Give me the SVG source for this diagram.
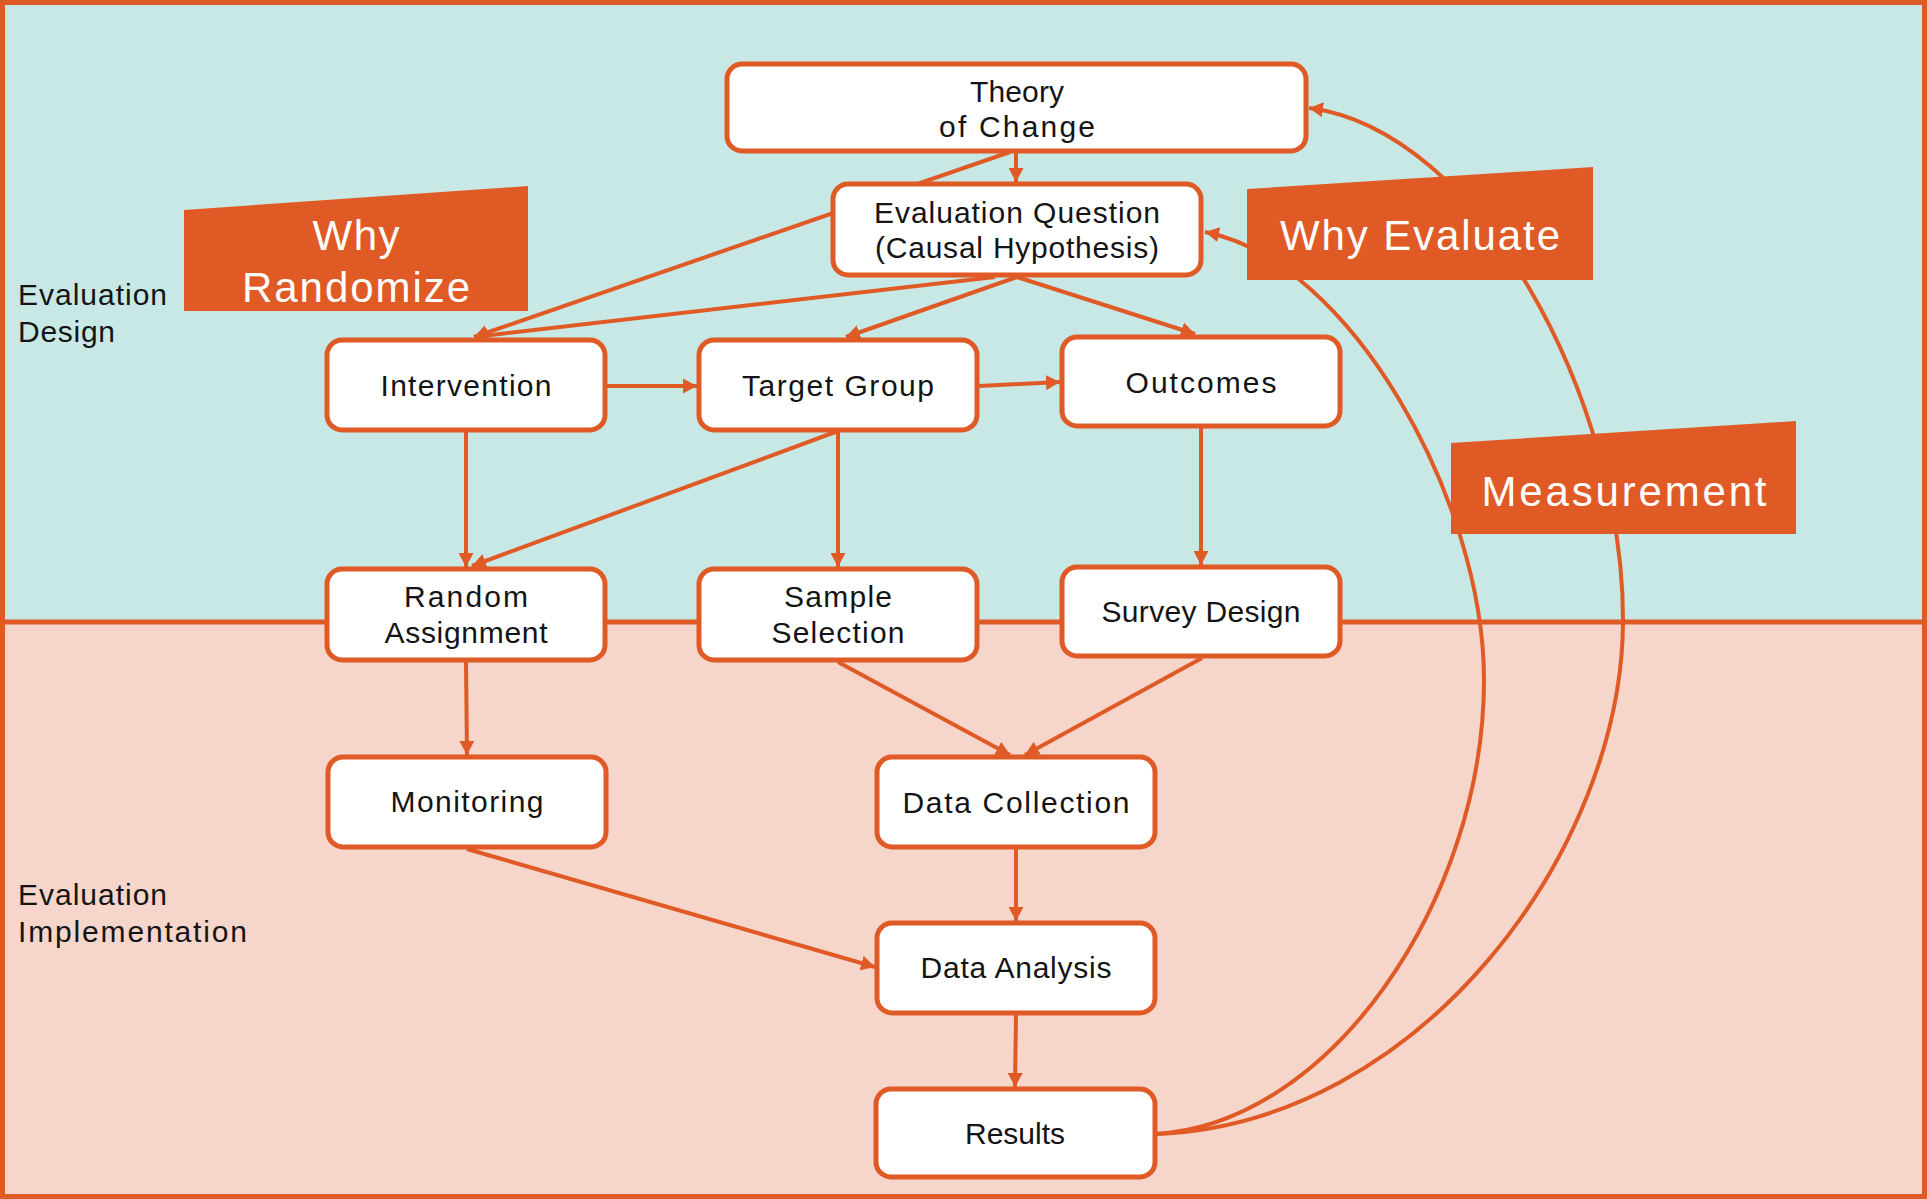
<svg xmlns="http://www.w3.org/2000/svg" width="1927" height="1199" viewBox="0 0 1927 1199">
  <defs>
    <marker id="arrow" markerUnits="userSpaceOnUse" markerWidth="15" markerHeight="15" refX="14" refY="7.5" orient="auto">
      <path d="M0,0 L14,7.5 L0,15 Z" fill="#E05A26"/>
    </marker>
    <style>
      .node rect { fill: #FFFFFF; stroke: #E05A26; stroke-width: 5; }
      .node text, .side { font-family: "Liberation Sans", Arial, sans-serif; font-size: 30px; fill: #141414; text-anchor: middle; }
      .side { text-anchor: start; }
      .edge { fill: none; stroke: #E05A26; stroke-width: 4; marker-end: url(#arrow); }
      .callout polygon { fill: #E05A26; }
      .callout text { font-family: "Liberation Sans", Arial, sans-serif; font-size: 42px; fill: #FFFFFF; text-anchor: middle; }
    </style>
  </defs>

  <!-- two bands: design (top) and implementation (bottom) -->
  <rect x="0" y="0" width="1927" height="622" fill="#C8E8E5"/>
  <rect x="0" y="622" width="1927" height="577" fill="#F6D5CA"/>
  <line x1="0" y1="622" x2="1927" y2="622" stroke="#E05A26" stroke-width="5"/>
  <rect x="2.5" y="2.5" width="1922" height="1194" fill="none" stroke="#E05A26" stroke-width="5"/>

  <g id="band-labels">
    <text class="side" x="18" y="305" textLength="149">Evaluation</text>
    <text class="side" x="18" y="342" textLength="97">Design</text>
    <text class="side" x="18" y="905" textLength="149">Evaluation</text>
    <text class="side" x="18" y="942" textLength="229">Implementation</text>
  </g>

  <g id="connectors">
    <line class="edge" x1="1016" y1="152" x2="1016" y2="182"/>
    <line class="edge" x1="1010" y1="152" x2="474" y2="337"/>
    <line class="edge" x1="995" y1="277" x2="474" y2="337"/>
    <line class="edge" x1="1017" y1="277" x2="846" y2="337"/>
    <line class="edge" x1="1017" y1="277" x2="1195" y2="334"/>
    <line class="edge" x1="606" y1="386" x2="697" y2="386"/>
    <line class="edge" x1="979" y1="386" x2="1060" y2="382"/>
    <line class="edge" x1="466" y1="431" x2="466" y2="567"/>
    <line class="edge" x1="838" y1="431" x2="472" y2="566"/>
    <line class="edge" x1="838" y1="431" x2="838" y2="567"/>
    <line class="edge" x1="1201" y1="428" x2="1201" y2="565"/>
    <line class="edge" x1="466" y1="662" x2="467" y2="755"/>
    <line class="edge" x1="838" y1="662" x2="1010" y2="755"/>
    <line class="edge" x1="1202" y1="658" x2="1025" y2="755"/>
    <line class="edge" x1="467" y1="849" x2="875" y2="967"/>
    <line class="edge" x1="1016" y1="849" x2="1016" y2="921"/>
    <line class="edge" x1="1016" y1="1015" x2="1015" y2="1087"/>
    <!-- feedback loops from Results -->
    <path class="edge" d="M1155,1134 C1330,1125 1484,900 1484,680 C1484,500 1350,260 1205,232"/>
    <path class="edge" d="M1155,1134 C1420,1125 1623,850 1623,620 C1623,400 1480,130 1309,108"/>
  </g>

  <g id="theory-of-change" class="node">
    <rect x="727" y="64" width="579" height="87" rx="15"/>
    <text x="1017" y="102" textLength="94">Theory</text>
    <text x="1017" y="137" textLength="156">of Change</text>
  </g>
  <g id="evaluation-question" class="node">
    <rect x="833" y="184" width="368" height="91" rx="15"/>
    <text x="1017" y="223" textLength="286">Evaluation Question</text>
    <text x="1017" y="258" textLength="284">(Causal Hypothesis)</text>
  </g>
  <g id="intervention" class="node">
    <rect x="327" y="340" width="278" height="90" rx="15"/>
    <text x="466" y="396" textLength="171">Intervention</text>
  </g>
  <g id="target-group" class="node">
    <rect x="699" y="340" width="278" height="90" rx="15"/>
    <text x="838" y="396" textLength="192">Target Group</text>
  </g>
  <g id="outcomes" class="node">
    <rect x="1062" y="337" width="278" height="89" rx="15"/>
    <text x="1201" y="393" textLength="151">Outcomes</text>
  </g>
  <g id="random-assignment" class="node">
    <rect x="327" y="569" width="278" height="91" rx="15"/>
    <text x="466" y="607" textLength="124">Random</text>
    <text x="466" y="643" textLength="163">Assignment</text>
  </g>
  <g id="sample-selection" class="node">
    <rect x="699" y="569" width="278" height="91" rx="15"/>
    <text x="838" y="607" textLength="108">Sample</text>
    <text x="838" y="643" textLength="133">Selection</text>
  </g>
  <g id="survey-design" class="node">
    <rect x="1062" y="567" width="278" height="89" rx="15"/>
    <text x="1201" y="622" textLength="199">Survey Design</text>
  </g>
  <g id="monitoring" class="node">
    <rect x="328" y="757" width="278" height="90" rx="15"/>
    <text x="467" y="812" textLength="153">Monitoring</text>
  </g>
  <g id="data-collection" class="node">
    <rect x="877" y="757" width="278" height="90" rx="15"/>
    <text x="1016" y="813" textLength="227">Data Collection</text>
  </g>
  <g id="data-analysis" class="node">
    <rect x="877" y="923" width="278" height="90" rx="15"/>
    <text x="1016" y="978" textLength="191">Data Analysis</text>
  </g>
  <g id="results" class="node">
    <rect x="876" y="1089" width="279" height="88" rx="15"/>
    <text x="1015" y="1144">Results</text>
  </g>

  <g id="why-randomize" class="callout">
    <polygon points="184,210 528,186 528,311 184,311"/>
    <text x="356" y="250" textLength="87">Why</text>
    <text x="356" y="302" textLength="228">Randomize</text>
  </g>
  <g id="why-evaluate" class="callout">
    <polygon points="1247,189 1593,167 1593,280 1247,280"/>
    <text x="1420" y="250" textLength="280">Why Evaluate</text>
  </g>
  <g id="measurement" class="callout">
    <polygon points="1451,443 1796,421 1796,534 1451,534"/>
    <text x="1624" y="506" textLength="285">Measurement</text>
  </g>
</svg>
